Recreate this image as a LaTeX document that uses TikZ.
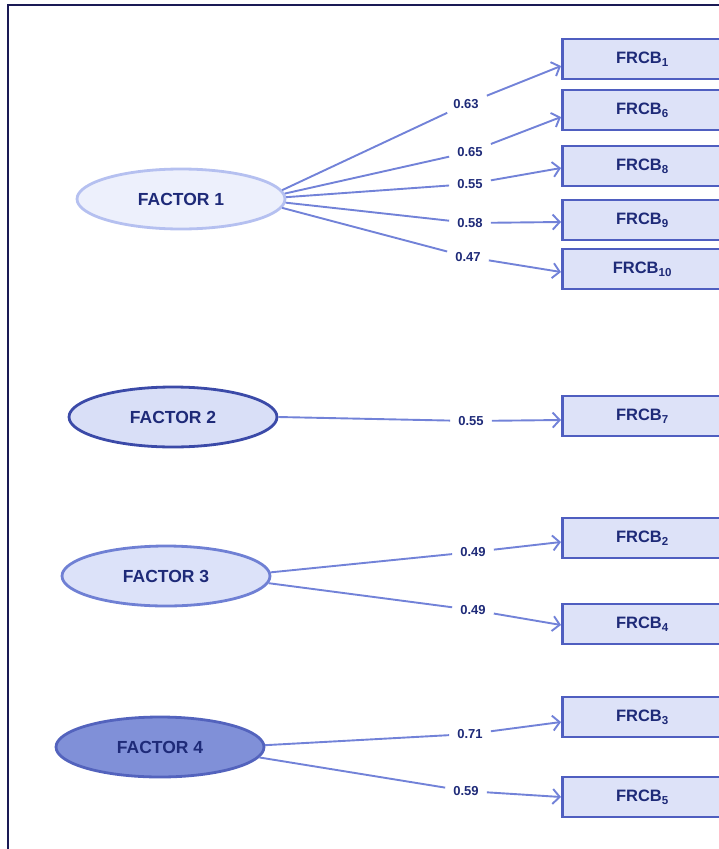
\documentclass[tikz,border=0pt]{standalone}
\usepackage{fontspec}
\setmainfont{Liberation Sans}
\usetikzlibrary{arrows.meta,shapes.geometric}

\definecolor{navy}{HTML}{1E2A78}
\definecolor{frameline}{HTML}{1A1A55}
\definecolor{linkcol}{HTML}{7282D8}
\definecolor{boxfill}{HTML}{DDE2F8}
\definecolor{boxline}{HTML}{4F5EC0}
\definecolor{fillone}{HTML}{EDF0FC}
\definecolor{lineone}{HTML}{B5C0F0}
\definecolor{filltwo}{HTML}{D9DFF7}
\definecolor{linetwo}{HTML}{3B4AA8}
\definecolor{fillthree}{HTML}{DCE2F9}
\definecolor{linethree}{HTML}{6F80D4}
\definecolor{fillfour}{HTML}{8090D8}
\definecolor{linefour}{HTML}{5363BD}

\tikzset{
  factor/.style={ellipse, draw, line width=2.8pt, minimum width=208pt, minimum height=60pt,
    font=\bfseries\fontsize{17.5}{20}\selectfont, text=navy},
  item/.style={rectangle, draw=boxline, fill=boxfill, line width=2.8pt, minimum width=160pt,
    minimum height=40pt, anchor=west, font=\bfseries\fontsize{16.5}{19}\selectfont, text=navy},
  coef/.style={font=\bfseries\fontsize{13}{15}\selectfont, text=navy, inner xsep=8pt, inner ysep=4pt},
  link/.style={draw=linkcol, line width=1.9pt},
  arr/.style={link, -{Straight Barb[length=7pt,width=15pt]}}
}

\begin{document}
\begin{tikzpicture}[x=1pt, y=-1pt]
        \useasboundingbox (0, 0) rectangle (718, 849);
        \draw[frameline, line width=2pt] (8, 852) -- (8, 5) -- (721, 5);

        % factors
        \node[factor, fill=fillone, draw=lineone] (f1) at (181, 199) {FACTOR 1};
        \node[factor, fill=filltwo, draw=linetwo] (f2) at (173, 417) {FACTOR 2};
        \node[factor, fill=fillthree, draw=linethree] (f3) at (166, 576) {FACTOR 3};
        \node[factor, fill=fillfour, draw=linefour] (f4) at (160, 747) {FACTOR 4};

        % items
        \node[item] (b1) at (561, 59) {FRCB\textsubscript{1}};
        \node[item] (b6) at (561, 110) {FRCB\textsubscript{6}};
        \node[item] (b8) at (561, 166) {FRCB\textsubscript{8}};
        \node[item] (b9) at (561, 220) {FRCB\textsubscript{9}};
        \node[item] (b10) at (561, 269) {FRCB\textsubscript{10}};
        \node[item] (b7) at (561, 416) {FRCB\textsubscript{7}};
        \node[item] (b2) at (561, 538) {FRCB\textsubscript{2}};
        \node[item] (b4) at (561, 624) {FRCB\textsubscript{4}};
        \node[item] (b3) at (561, 717) {FRCB\textsubscript{3}};
        \node[item] (b5) at (561, 797) {FRCB\textsubscript{5}};

        % loadings
        \node[coef] (c1) at (466, 104) {0.63};
        \node[coef] (c6) at (470, 152) {0.65};
        \node[coef] (c8) at (470, 184) {0.55};
        \node[coef] (c9) at (470, 223) {0.58};
        \node[coef] (c10) at (468, 257) {0.47};
        \node[coef] (c7) at (471, 421) {0.55};
        \node[coef] (c2) at (473, 552) {0.49};
        \node[coef] (c4) at (473, 610) {0.49};
        \node[coef] (c3) at (470, 734) {0.71};
        \node[coef] (c5) at (466, 791) {0.59};

        \draw[link] (f1.5) -- (c1);
        \draw[link] (f1.3) -- (c6);
        \draw[link] (f1.1) -- (c8);
        \draw[link] (f1.-2) -- (c9);
        \draw[link] (f1.-5) -- (c10);
        \draw[link] (f2.east) -- (c7);
        \draw[link] (f3.2) -- (c2);
        \draw[link] (f3.-4) -- (c4);
        \draw[link] (f4.1) -- (c3);
        \draw[link] (f4.-6) -- (c5);

        \draw[arr] (c1) -- ([yshift=-7pt]b1.west);
        \draw[arr] (c6) -- ([yshift=-7pt]b6.west);
        \draw[arr] (c8) -- ([yshift=-2pt]b8.west);
        \draw[arr] (c9) -- ([yshift=-2pt]b9.west);
        \draw[arr] (c10) -- ([yshift=-3pt]b10.west);
        \draw[arr] (c7) -- ([yshift=-4pt]b7.west);
        \draw[arr] (c2) -- ([yshift=-4pt]b2.west);
        \draw[arr] (c4) -- ([yshift=-1pt]b4.west);
        \draw[arr] (c3) -- ([yshift=-5pt]b3.west);
        \draw[arr] (c5) -- (b5.west);

\end{tikzpicture}
\end{document}
